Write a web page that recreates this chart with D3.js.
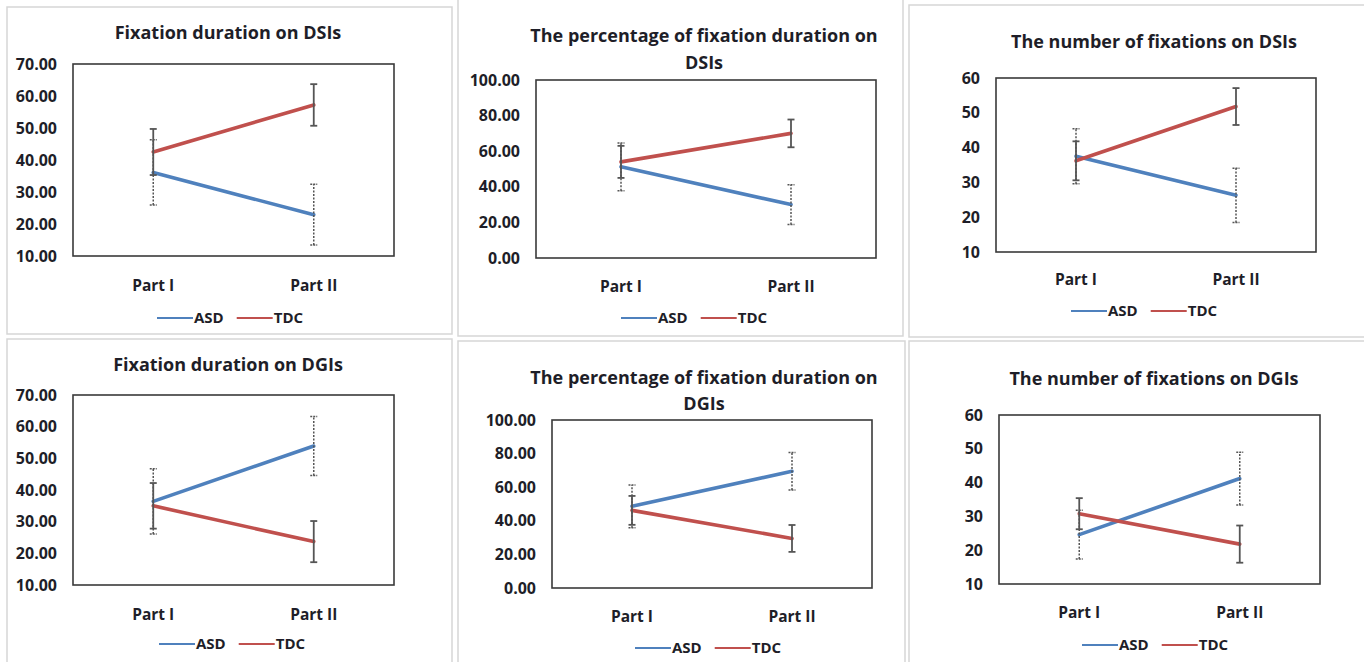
<!DOCTYPE html>
<html>
<head>
<meta charset="utf-8">
<script src="https://cdn.jsdelivr.net/npm/d3@7"></script>
<style>
  html, body { margin: 0; padding: 0; background: #ffffff; }
  svg { display: block; }
  text { font-family: "Open Sans", Lato, sans-serif; font-weight: 700; fill: #1e1e28; }
</style>
</head>
<body>
<svg id="chart" width="1364" height="662"></svg>
<script>
// ---- data ----
const categories = ["Part I", "Part II"];
const seriesNames = ["ASD", "TDC"];

const titles = [
  ["Fixation duration on DSIs"],
  ["The percentage of fixation duration on", "DSIs"],
  ["The number of fixations on DSIs"],
  ["Fixation duration on DGIs"],
  ["The percentage of fixation duration on", "DGIs"],
  ["The number of fixations on DGIs"]
];

// group means (Part I, Part II) and error-bar half-widths
const asdMean = [[36.1, 22.9], [51.2, 30.0], [37.5, 26.3], [36.4, 53.9], [48.6, 69.5], [24.6, 41.2]];
const asdErr  = [[10.2, 9.5], [13.4, 11.2], [7.9, 7.8], [10.3, 9.3], [12.7, 11.1], [7.2, 7.8]];
const tdcMean = [[42.5, 57.2], [54.0, 70.0], [36.2, 51.8], [35.0, 23.7], [46.2, 29.5], [30.8, 21.8]];
const tdcErr  = [[7.2, 6.5], [9.0, 7.8], [5.6, 5.3], [7.2, 6.5], [8.6, 8.0], [4.6, 5.5]];

// y-axis ticks per panel
const durationTicks = [10, 20, 30, 40, 50, 60, 70];
const percentTicks  = [0, 20, 40, 60, 80, 100];
const countTicks    = [10, 20, 30, 40, 50, 60];
const panelTicks  = [durationTicks, percentTicks, countTicks, durationTicks, percentTicks, countTicks];
const tickFormats = [".2f", ".2f", "d", ".2f", ".2f", "d"];

// ---- layout ----
const layout = [
  { frame: [7, 7, 452, 334],    box: [73, 64, 394, 256],   titleX: 228,  titleY: [33],       catY: 286, legY: 318, legX: 157 },
  { frame: [458, -2, 903, 336], box: [536, 80, 876, 258],  titleX: 704,  titleY: [36, 63],   catY: 287, legY: 318, legX: 621 },
  { frame: [909, 5, 1368, 337], box: [996, 78, 1316, 252], titleX: 1154, titleY: [42],       catY: 280, legY: 311, legX: 1071 },
  { frame: [7, 339, 452, 666],  box: [73, 395, 394, 585],  titleX: 228,  titleY: [365],      catY: 615, legY: 644, legX: 159 },
  { frame: [458, 341, 905, 666], box: [552, 420, 872, 588], titleX: 704, titleY: [378, 404], catY: 617, legY: 648, legX: 635 },
  { frame: [909, 341, 1368, 666], box: [999, 415, 1320, 584], titleX: 1154, titleY: [379],   catY: 613, legY: 645, legX: 1082 }
];

const colors = { ASD: "#4f81bd", TDC: "#c0504d" };
const errColor = "#555555";

const svg = d3.select("#chart");

layout.forEach((L, i) => {
  const g = svg.append("g");
  const [fx0, fy0, fx1, fy1] = L.frame;
  const [bx0, by0, bx1, by1] = L.box;

  // panel frame
  g.append("rect")
    .attr("x", fx0).attr("y", fy0)
    .attr("width", fx1 - fx0).attr("height", fy1 - fy0)
    .attr("fill", "#ffffff").attr("stroke", "#d6d6d6").attr("stroke-width", 1.5);

  const ticks = panelTicks[i];
  const y = d3.scaleLinear().domain(d3.extent(ticks)).range([by1, by0]);
  const x = d3.scaleBand().domain(categories).range([bx0, bx1]);
  const cx = c => x(c) + x.bandwidth() / 2;

  // title
  const title = g.append("text")
    .attr("text-anchor", "middle")
    .style("font-size", "18px");
  titles[i].forEach((t, k) => {
    title.append("tspan").attr("x", L.titleX).attr("y", L.titleY[k]).attr("dy", "0.35em").text(t);
  });

  // y axis labels
  const yAxis = d3.axisLeft(y).tickValues(ticks).tickFormat(d3.format(tickFormats[i])).tickSize(0).tickPadding(16);
  const ya = g.append("g").attr("transform", `translate(${bx0},0)`).call(yAxis);
  ya.select(".domain").remove();
  ya.selectAll("text").attr("font-family", null).attr("font-size", null)
    .style("font-size", "16px").attr("fill", "#1e1e30");

  // category labels
  const xAxis = d3.axisBottom(x).tickSize(0).tickPadding(0);
  const xa = g.append("g").attr("transform", `translate(0,${L.catY})`).call(xAxis);
  xa.select(".domain").remove();
  xa.selectAll("text").attr("font-family", null).attr("font-size", null)
    .attr("dy", "0.35em").style("font-size", "15.5px").attr("fill", "#1e1e28");

  // plot box
  g.append("rect")
    .attr("x", bx0).attr("y", by0).attr("width", bx1 - bx0).attr("height", by1 - by0)
    .attr("fill", "none").attr("stroke", "#3a3a3a").attr("stroke-width", 1.6);

  const series = [
    { name: "ASD", mean: asdMean[i], err: asdErr[i], dash: "2,1.5" },
    { name: "TDC", mean: tdcMean[i], err: tdcErr[i], dash: null }
  ];

  const line = d3.line().x(d => cx(d.c)).y(d => y(d.v));

  // lines
  series.forEach(s => {
    const pts = categories.map((c, k) => ({ c, v: s.mean[k] }));
    g.append("path").datum(pts)
      .attr("d", line)
      .attr("fill", "none")
      .attr("stroke", colors[s.name])
      .attr("stroke-width", 3.6)
      .attr("stroke-linecap", "round");
  });

  // error bars (ASD dashed, TDC solid on top)
  series.forEach(s => {
    categories.forEach((c, k) => {
      const xc = cx(c);
      const lo = y(s.mean[k] - s.err[k]);
      const hi = y(s.mean[k] + s.err[k]);
      const eb = g.append("g").attr("stroke", errColor).attr("stroke-width", s.dash ? 1.5 : 1.8);
      eb.append("line").attr("x1", xc).attr("x2", xc).attr("y1", lo).attr("y2", hi)
        .attr("stroke-dasharray", s.dash);
      [lo, hi].forEach(yy => {
        eb.append("line").attr("x1", xc - 3.5).attr("x2", xc + 3.5).attr("y1", yy).attr("y2", yy)
          .attr("stroke-dasharray", s.dash ? "2,1" : null);
      });
    });
  });

  // legend
  let lx = L.legX;
  seriesNames.forEach(name => {
    g.append("line")
      .attr("x1", lx).attr("x2", lx + 36).attr("y1", L.legY).attr("y2", L.legY)
      .attr("stroke", colors[name]).attr("stroke-width", 2.2);
    const t = g.append("text")
      .attr("x", lx + 37).attr("y", L.legY).attr("dy", "0.35em")
      .style("font-size", "15px").text(name);
    lx += 37 + t.node().getComputedTextLength() + 13;
  });
});
</script>
</body>
</html>
